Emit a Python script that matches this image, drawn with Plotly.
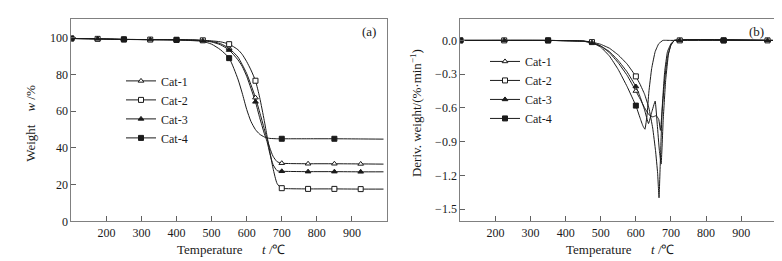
import plotly.graph_objects as go

# ---------------- Data: panel (a) TGA ----------------
T_tga = [100, 175, 250, 325, 400, 450, 475, 500, 525, 550, 575, 587, 600, 612, 625,
         637, 650, 658, 666, 675, 687, 700, 725, 775, 850, 925, 990]
w_cat1 = [99.6, 99.4, 99.1, 99.0, 98.9, 98.7, 98.5, 98.0, 96.8, 94.2, 89.5, 85.5, 80.5, 74.5, 67.4,
          59.5, 50.5, 45.0, 40.0, 35.5, 32.5, 31.7, 31.5, 31.4, 31.4, 31.3, 31.2]
w_cat2 = [99.6, 99.4, 99.1, 99.0, 98.9, 98.8, 98.6, 98.3, 97.8, 96.5, 93.5, 91.0, 87.0, 82.5, 76.6,
          67.5, 55.0, 46.5, 38.0, 29.0, 20.5, 18.1, 17.8, 17.7, 17.7, 17.6, 17.6]
w_cat3 = [99.6, 99.4, 99.1, 99.0, 98.9, 98.7, 98.4, 97.7, 96.2, 93.3, 88.0, 84.5, 79.0, 72.5, 65.1,
          56.5, 48.0, 43.5, 37.0, 31.0, 27.6, 27.3, 27.2, 27.1, 27.1, 27.0, 27.0]
w_cat4 = [99.6, 99.4, 99.1, 98.9, 98.8, 98.4, 98.0, 96.5, 93.5, 88.9, 77.5, 70.0, 61.0, 54.5, 50.0,
          47.5, 46.0, 45.5, 45.2, 45.1, 45.0, 45.0, 45.0, 45.0, 45.0, 44.9, 44.8]

# marker positions (a)
T_mk_a = [100, 175, 250, 325, 400, 475, 550, 625, 700, 775, 850, 925]
mk_a_cat1 = [99.6, 99.4, 99.1, 99.0, 98.9, 98.5, 94.2, 67.4, 31.7, 31.4, 31.4, 31.3]
mk_a_cat2 = [99.6, 99.4, 99.1, 99.0, 98.9, 98.6, 96.5, 76.6, 18.1, 17.7, 17.7, 17.6]
mk_a_cat3 = [99.6, 99.4, 99.1, 99.0, 98.9, 98.4, 93.3, 65.1, 27.3, 27.1, 27.1, 27.0]
T_mk_a4 = [100, 250, 400, 550, 700, 850]
mk_a_cat4 = [99.6, 99.1, 98.8, 88.9, 45.0, 45.0]

# ---------------- Data: panel (b) DTG ----------------
T_d1 = [100, 350, 450, 475, 500, 525, 550, 575, 600, 612, 625, 637, 648, 658, 665, 670, 675, 682, 690, 700, 710, 990]
d_cat1 = [0.0, 0.0, -0.006, -0.02, -0.05, -0.11, -0.20, -0.31, -0.45, -0.52, -0.60, -0.66, -0.68, -0.67,
          -0.70, -0.80, -0.62, -0.35, -0.15, -0.04, 0.0, 0.0]
T_d2 = [100, 350, 450, 475, 500, 525, 550, 575, 600, 612, 625, 637, 648, 656, 662, 666, 670, 675, 682, 690, 700, 710, 990]
d_cat2 = [0.0, 0.0, -0.005, -0.015, -0.035, -0.07, -0.13, -0.21, -0.32, -0.39, -0.48, -0.60, -0.78, -0.98,
          -1.18, -1.40, -1.05, -0.60, -0.28, -0.10, -0.03, 0.0, 0.0]
T_d3 = [100, 350, 450, 475, 500, 525, 550, 575, 600, 612, 625, 636, 645, 655, 661, 667, 672, 678, 685, 693, 700, 710, 990]
d_cat3 = [0.0, 0.0, -0.006, -0.02, -0.05, -0.10, -0.18, -0.28, -0.41, -0.50, -0.62, -0.74, -0.64, -0.54,
          -0.75, -0.98, -1.10, -0.70, -0.35, -0.12, -0.04, 0.0, 0.0]
T_d4 = [100, 350, 450, 475, 500, 525, 550, 575, 600, 612, 620, 626, 632, 637, 645, 655, 665, 677, 700, 990]
d_cat4 = [0.0, 0.0, -0.008, -0.02, -0.06, -0.14, -0.26, -0.41, -0.58, -0.69, -0.76, -0.79, -0.66, -0.46,
          -0.25, -0.10, -0.03, 0.0, 0.0, 0.0]

T_mk_b = [100, 225, 350, 475, 600, 725, 850, 975]
mk_b_cat1 = [0.0, 0.0, 0.0, -0.02, -0.45, 0.0, 0.0, 0.0]
mk_b_cat2 = [0.0, 0.0, 0.0, -0.015, -0.32, 0.0, 0.0, 0.0]
mk_b_cat3 = [0.0, 0.0, 0.0, -0.02, -0.41, 0.0, 0.0, 0.0]
T_mk_b4 = [100, 350, 600, 850]
mk_b_cat4 = [0.0, 0.0, -0.58, 0.0]

names = ["Cat-1", "Cat-2", "Cat-3", "Cat-4"]
symbols = ["triangle-up", "square", "triangle-up", "square"]
fills = ["white", "white", "#1a1a1a", "#1a1a1a"]

FONT = "Liberation Serif, Times New Roman, serif"
INK = "#1a1a1a"
MS = 5

fig = go.Figure()

def add_panel(xa, ya, line_sets, mk_sets, legend_name, smooth):
    for i in range(4):
        tx, ty = line_sets[i]
        fig.add_trace(go.Scatter(
            x=tx, y=ty, mode="lines", line=dict(color=INK, width=1, shape="spline", smoothing=smooth),
            xaxis=xa, yaxis=ya, showlegend=False, hoverinfo="skip"))
    for i in range(4):
        tx, ty = mk_sets[i]
        fig.add_trace(go.Scatter(
            x=tx, y=ty, mode="markers",
            marker=dict(symbol=symbols[i], size=MS, color=fills[i], line=dict(color=INK, width=1)),
            xaxis=xa, yaxis=ya, showlegend=False, hoverinfo="skip"))
    for i in range(4):
        fig.add_trace(go.Scatter(
            x=[None], y=[None], mode="lines+markers", name=names[i],
            line=dict(color=INK, width=1),
            marker=dict(symbol=symbols[i], size=MS, color=fills[i], line=dict(color=INK, width=1)),
            xaxis=xa, yaxis=ya, legend=legend_name))

add_panel("x", "y",
          [(T_tga, w_cat1), (T_tga, w_cat2), (T_tga, w_cat3), (T_tga, w_cat4)],
          [(T_mk_a, mk_a_cat1), (T_mk_a, mk_a_cat2), (T_mk_a, mk_a_cat3), (T_mk_a4, mk_a_cat4)], "legend", 0.6)
add_panel("x2", "y2",
          [(T_d1, d_cat1), (T_d2, d_cat2), (T_d3, d_cat3), (T_d4, d_cat4)],
          [(T_mk_b, mk_b_cat1), (T_mk_b, mk_b_cat2), (T_mk_b, mk_b_cat3), (T_mk_b4, mk_b_cat4)], "legend2", 0.3)

W, H = 782, 261
def px_x(p):
    return p / W
def px_y(p):
    return 1 - p / H

axis_common = dict(showgrid=False, zeroline=False, showline=True, linecolor="#808080", linewidth=1,
                   mirror=True, ticks="inside", ticklen=5, tickwidth=1, tickcolor="#606060",
                   tickfont=dict(family=FONT, size=12, color=INK))

fig.update_layout(
    width=W, height=H, margin=dict(l=0, r=0, t=0, b=0),
    paper_bgcolor="white", plot_bgcolor="white",
    font=dict(family=FONT, color=INK),
    xaxis=dict(domain=[px_x(63.3), px_x(379)], range=[100, 1000], tickvals=[200, 300, 400, 500, 600, 700, 800, 900],
               anchor="y", **axis_common),
    yaxis=dict(domain=[px_y(219.3), px_y(11.7)], range=[0, 110], tickvals=[0, 20, 40, 60, 80, 100],
               anchor="x", **axis_common),
    xaxis2=dict(domain=[px_x(452.3), px_x(768.3)], range=[100, 1000], tickvals=[200, 300, 400, 500, 600, 700, 800, 900],
                anchor="y2", **axis_common),
    yaxis2=dict(domain=[px_y(219.3), px_y(11.7)], range=[-1.61, 0.187],
                tickvals=[0.0, -0.3, -0.6, -0.9, -1.2, -1.5], tickformat=".1f",
                anchor="x2", **axis_common),
    legend=dict(x=px_x(113), y=px_y(60), xanchor="left", yanchor="top", bgcolor="rgba(0,0,0,0)",
                font=dict(family=FONT, size=12, color=INK), itemwidth=30, tracegroupgap=0),
    legend2=dict(x=px_x(477), y=px_y(40), xanchor="left", yanchor="top", bgcolor="rgba(0,0,0,0)",
                 font=dict(family=FONT, size=12, color=INK), itemwidth=30, tracegroupgap=0),
)

NB = "\u00a0"
ann = [
    dict(text="(a)", x=px_x(361), y=px_y(24)),
    dict(text="(b)", x=px_x(748), y=px_y(24)),
    dict(text="Temperature" + NB * 6 + "<i>t</i> /℃", x=px_x(223), y=px_y(248)),
    dict(text="Temperature" + NB * 6 + "<i>t</i> /℃", x=px_x(612), y=px_y(248)),
    dict(text="Weight" + NB * 4 + "<i>w</i> /%", x=px_x(23), y=px_y(119), textangle=-90),
    dict(text="Deriv. weight/(%·min<sup>−1</sup>)", x=px_x(408), y=px_y(108), textangle=-90),
]
for a in ann:
    fig.add_annotation(xref="paper", yref="paper", showarrow=False, xanchor="center", yanchor="middle",
                       font=dict(family=FONT, size=13, color=INK), **a)

fig.write_html("out.html")
